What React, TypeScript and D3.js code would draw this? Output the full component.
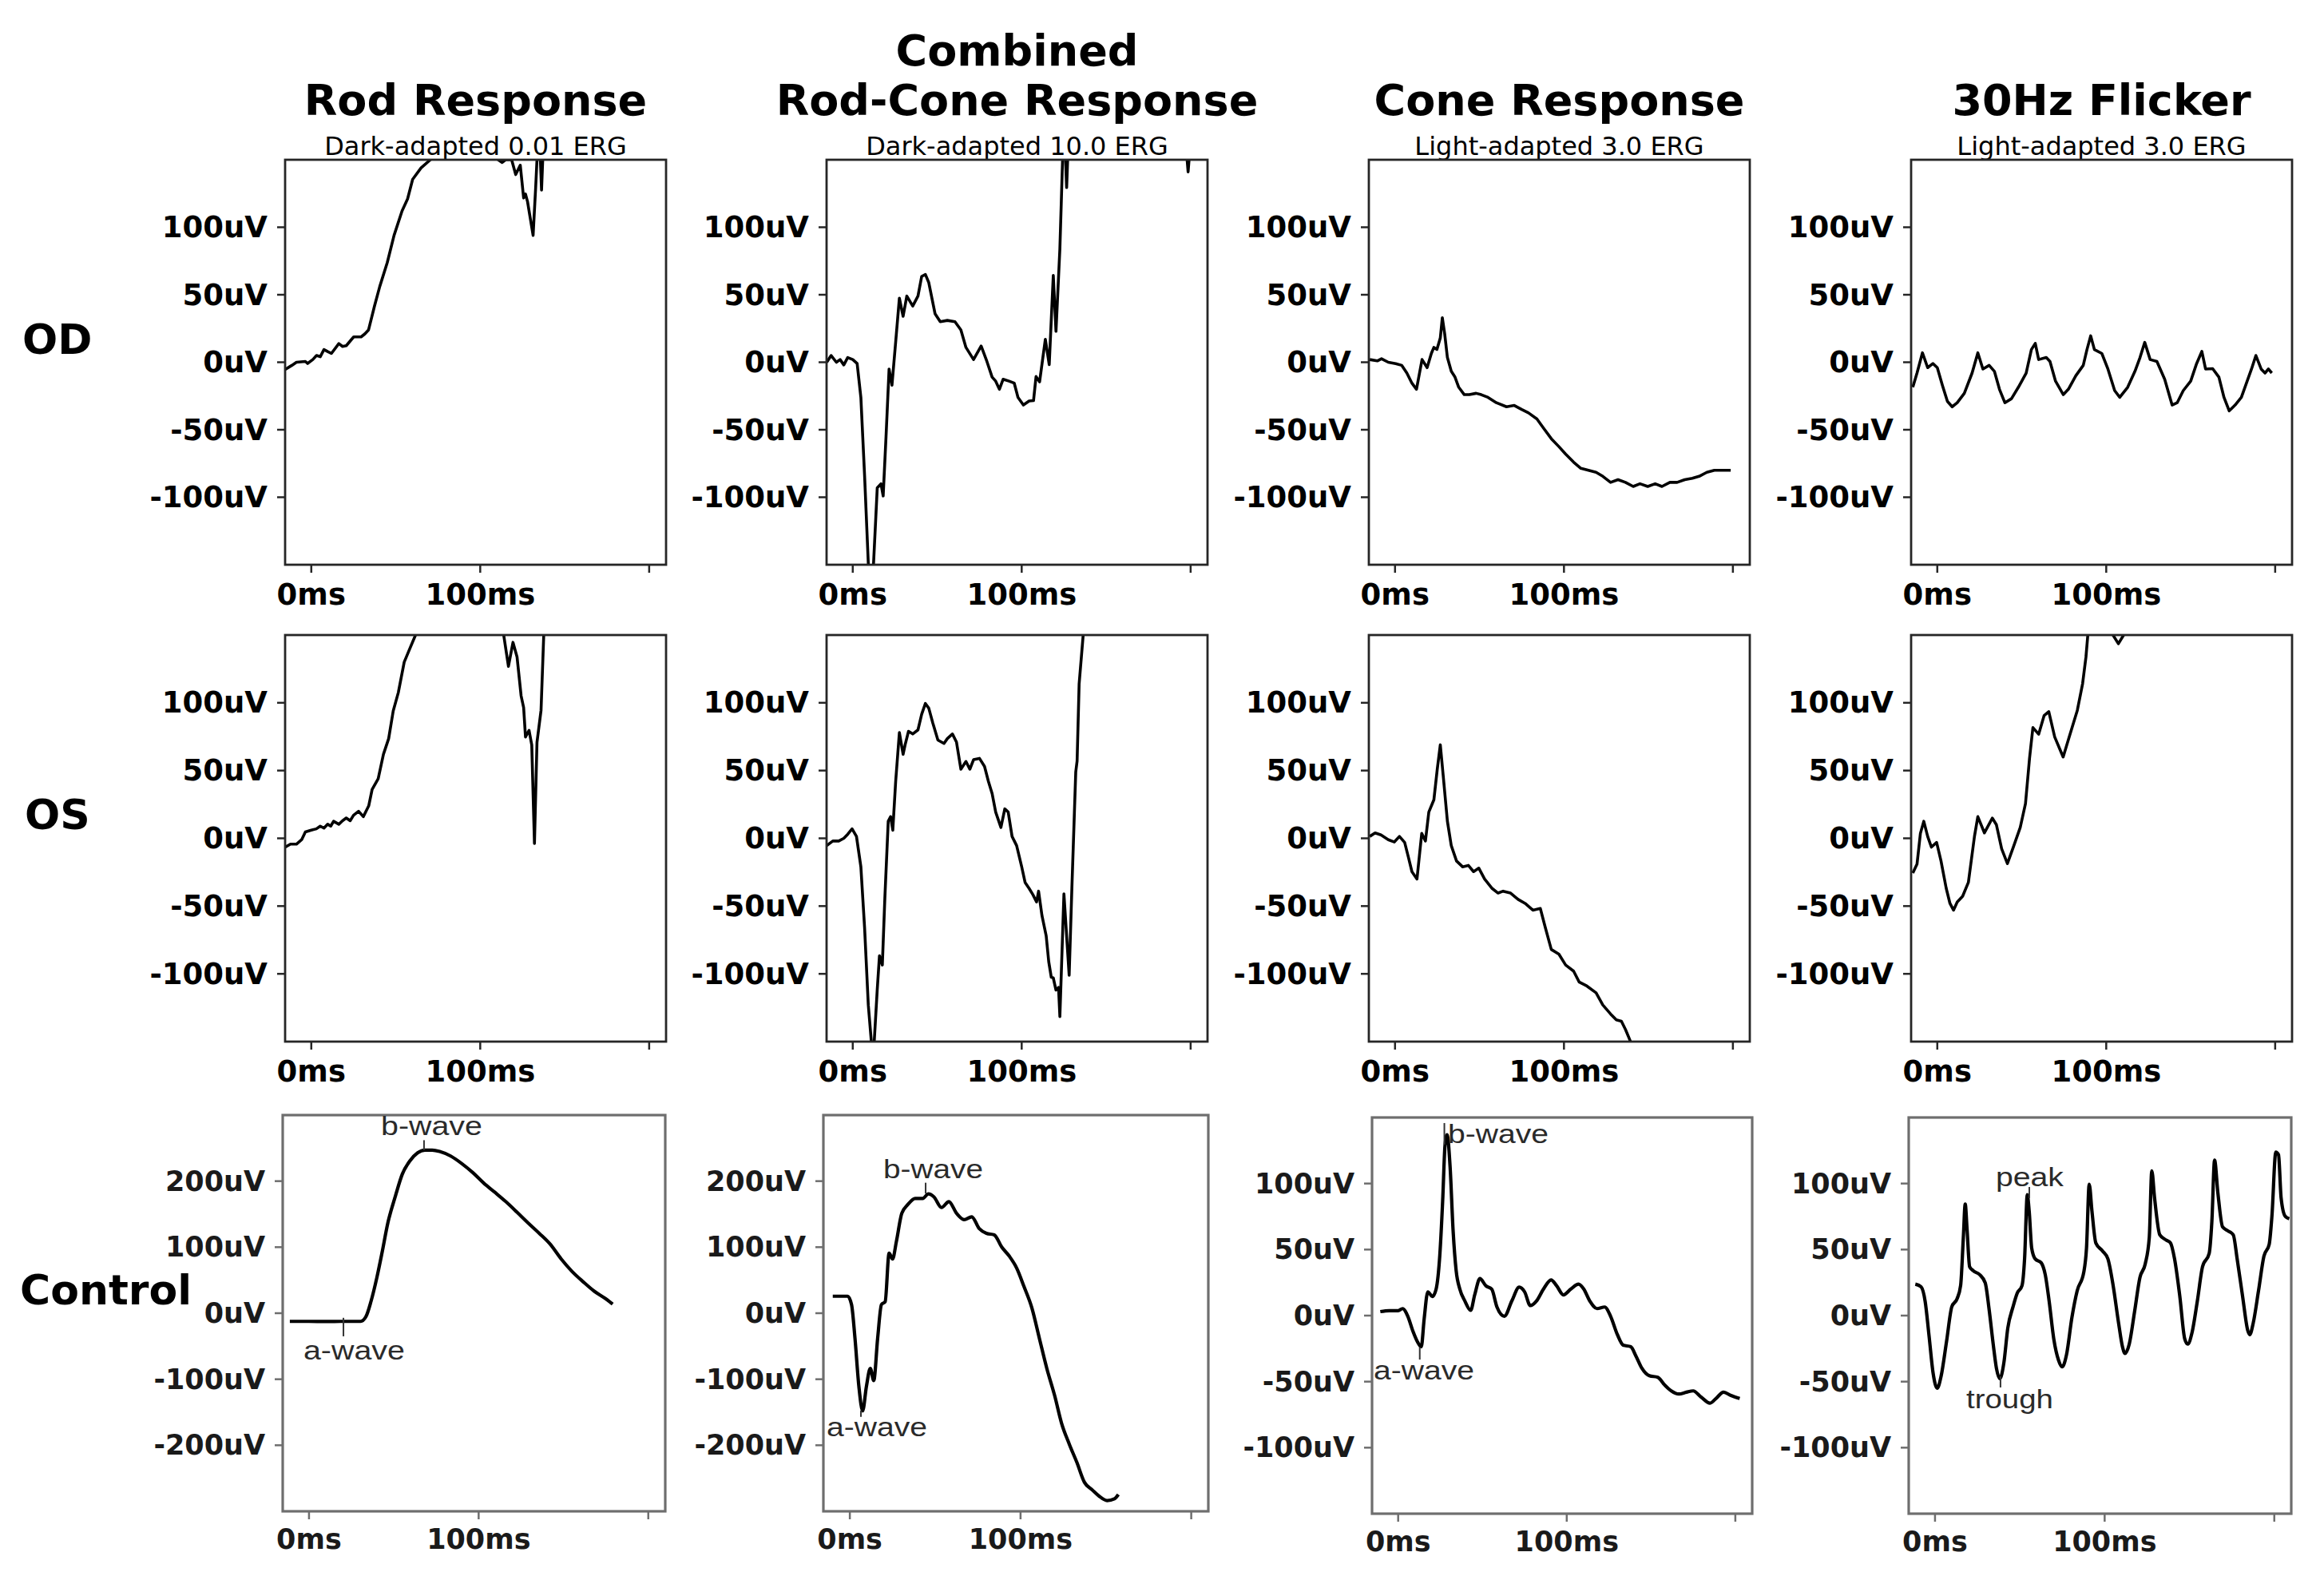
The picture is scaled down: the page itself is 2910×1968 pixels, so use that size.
import React from "react";
import * as d3 from "d3";

type Pt = [number, number];

// ---------- text content ----------
const columnTitles: string[][] = [
  ["Rod Response"],
  ["Combined", "Rod-Cone Response"],
  ["Cone Response"],
  ["30Hz Flicker"],
];
const columnSubtitles = [
  "Dark-adapted 0.01 ERG",
  "Dark-adapted 10.0 ERG",
  "Light-adapted 3.0 ERG",
  "Light-adapted 3.0 ERG",
];
const rowLabels = ["OD", "OS", "Control"];

// ---------- axes ----------
const timeDomain: [number, number] = [-15.5, 210];
const timeTicks = [0, 100, 200];
const timeTickLabels = ["0ms", "100ms", ""];
const patientDomain: [number, number] = [-150, 150];
const patientTicks = [100, 50, 0, -50, -100];
const controlWideDomain: [number, number] = [-300, 300];
const controlWideTicks = [200, 100, 0, -100, -200];

// ---------- OD (right eye) ----------
const rodOD: Pt[] = [
  [-15.4, -5.3], [-11.5, -2.3], [-8.8, 0], [-3.5, 0.6], [-2.2, -0.9], [0.9, 2], [3.1, 5], [5.3, 4.1],
  [7.5, 9.4], [9.7, 7.9], [11.9, 6.5], [16.3, 13.8], [18.5, 11.7], [20.7, 12.3], [25.1, 18.8],
  [29.5, 18.8], [31.7, 21], [33.9, 24], [37.4, 41.6], [40.5, 56], [45, 74], [49, 94], [53.7, 112],
  [57, 121], [60, 135.5], [65, 144], [70.5, 150], [75, 165], [90, 190], [105, 175], [110.6, 150],
  [113, 148], [115, 150], [118.6, 150], [121, 139], [123.7, 146], [125.7, 121.7], [126.8, 124.6],
  [128, 119], [131.3, 94], [132.8, 129], [133.6, 150], [135, 165], [135.6, 150], [136.3, 127.5],
  [137, 150], [140, 180], [150, 210],
];
const rodConeOD: Pt[] = [
  [-15.4, 0], [-12.8, 5], [-9.7, 0], [-7.5, 2], [-5.3, -2], [-3, 3.5], [0, 2], [2.6, -1], [4.8, -26],
  [7, -84], [9.2, -149], [10.5, -175], [11.5, -175], [12.3, -149], [14.5, -93], [16.7, -90], [18, -99],
  [19.7, -55], [21.5, -5], [23.2, -17], [25.4, 15], [27.6, 47.5], [29.8, 34], [32, 49], [35.5, 41.6],
  [38.6, 49], [40.8, 63.6], [43, 65], [45, 59], [48.7, 36], [51.8, 30], [56, 31], [60.5, 30], [64, 24],
  [67, 11], [71.5, 2], [76, 12], [79.4, 0.6], [82.5, -11], [84.6, -14], [86.8, -20], [89, -12.6],
  [92.5, -14], [95.6, -15.5], [97.8, -26], [101, -31.7], [104.4, -28.7], [107, -28.4], [108.5, -10.6],
  [110.6, -14.5], [114, 17], [116.3, -1.7], [118.7, 64.3], [120.3, 22.9], [122.6, 84], [124.2, 150],
  [125.5, 165], [126.6, 129.4], [127.5, 160], [140, 220], [196, 180], [198.5, 141], [201, 180],
];
const coneOD: Pt[] = [
  [-15, 2], [-10.5, 1], [-8, 2.6], [-4, 0], [0.4, -1], [4, -2.3], [7, -8], [10, -15.5], [12.7, -20],
  [14.5, -8], [16, 2], [19, -4], [21.5, 6.5], [23, 11], [24.8, 9.5], [26.8, 18], [28, 33], [29.4, 21],
  [31, 3.5], [33.3, -6.7], [35.5, -11], [37.7, -18.5], [41, -24], [44, -24], [48, -23], [51, -24],
  [55, -26], [60, -30], [66, -33], [70.6, -32], [75, -35], [79, -37.5], [84, -42], [88, -49],
  [92.5, -56.6], [97, -62.5], [101, -68], [105.7, -74], [110, -78.6], [114.5, -80], [119, -81.5],
  [123, -84.5], [127.6, -89], [132, -87], [136.4, -89], [141, -92], [145, -90], [149.6, -92], [154, -90],
  [158, -92], [162.7, -89], [167, -89], [171.5, -87], [176, -86], [180, -84.5], [184.6, -81.5],
  [189, -80], [193, -80], [198.7, -80],
];
const flickerOD: Pt[] = [
  [-14.5, -18.5], [-12, -8], [-8.8, 7], [-5.7, -4], [-2.6, -1], [0, -4], [3, -17], [6, -29], [8.8, -33],
  [11.8, -30], [16, -23], [20.6, -8], [24, 7], [27, -5], [30.7, -2.3], [33.8, -6.7], [36.8, -20],
  [40, -30], [43.9, -27], [48, -18.5], [52.6, -8], [55.7, 9.4], [58, 14], [60, 2], [64.5, 3.5],
  [66.7, 0.6], [70, -14], [74.6, -24], [77.6, -20], [82, -10], [86.4, -2.3], [88.6, 9.4], [90.8, 19.6],
  [93, 9.4], [97.4, 6.5], [101, -5], [105, -21], [108, -26], [112.7, -18.5], [117, -6.7], [120, 3.5],
  [122.8, 14.7], [126, 2], [130, 0.6], [134.6, -12.6], [139, -31.7], [142, -30], [145.6, -21],
  [150, -14], [153.5, -1], [156.6, 8], [158.8, -5], [163, -4.7], [166.7, -11], [169.7, -26],
  [172.8, -36], [176.3, -31.7], [180, -26], [183, -15.5], [186, -5], [188.6, 5], [191.7, -5],
  [194, -8], [196, -5], [198, -8],
];

// ---------- OS (left eye) ----------
const rodOS: Pt[] = [
  [-15.4, -6.5], [-12.3, -4.3], [-8.8, -4.3], [-5.7, -1], [-3.5, 4.7], [0, 6], [3, 7], [5.3, 9],
  [7.5, 7.5], [9.7, 10.4], [11.5, 9], [13.2, 12.6], [16.3, 10.4], [18.5, 13], [20.7, 15], [23, 13],
  [25, 17], [28, 20], [30.8, 16], [34, 24], [36, 36], [39.6, 44], [42.7, 62], [45.8, 73.6], [48.5, 94],
  [51.5, 107.5], [55, 130], [58, 139], [61.7, 150], [65, 165], [90, 200], [110, 170], [113.9, 150],
  [116.7, 126.9], [119.4, 144.6], [121.8, 133.8], [124.2, 105.2], [125.7, 96.4], [126.8, 74.8],
  [128.9, 79.7], [130.5, 68.9], [132.1, -3.8], [133.6, 70.9], [136, 94.5], [137.6, 150], [140, 180],
  [150, 210],
];
const rodConeOS: Pt[] = [
  [-15.4, -5.4], [-11.8, -2], [-8.3, -2], [-5.3, 0], [-3, 3], [-0.4, 7], [2.2, 1.4], [4.8, -21],
  [7, -66], [9.2, -123], [11, -150], [11.8, -165], [12, -165], [12.7, -150], [14.5, -111.5],
  [15.8, -86.7], [17.5, -93.5], [19, -44], [21, 12.6], [22.4, 16], [23.7, 6], [25.4, 42], [27.6, 78],
  [29.8, 62], [31, 69], [33, 79], [35.5, 77], [38.6, 80], [40.8, 91.6], [43, 99.5], [45, 96],
  [47.4, 85], [50.4, 72.5], [54, 70], [56, 73.6], [59, 77], [61.4, 71], [64, 51], [67, 56.7],
  [69.3, 51], [71.5, 58], [75, 59], [78, 53], [80.3, 42], [82.5, 33], [84.6, 19.4], [87.7, 8],
  [90, 21.7], [92, 19.4], [94.3, 1.4], [97, -5.4], [100, -21], [102, -32.5], [104.4, -37],
  [106.6, -41.5], [108.8, -47], [110, -39], [112, -57], [114.5, -72], [116, -91], [117.5, -102.5],
  [118.7, -103], [120.3, -112], [121.8, -110], [122.6, -131.5], [125, -41], [128.1, -101],
  [129.7, -37], [132, 49], [132.8, 57], [134, 114], [136.4, 150], [138, 175], [150, 210],
];
const coneOS: Pt[] = [
  [-15, 1.4], [-11.8, 4], [-8.3, 2.5], [-4, -1], [-0.4, -2.7], [2.6, 1.4], [5.7, -3], [8, -14.4],
  [10, -24.6], [13, -30], [15.8, 3.6], [18, -2], [20, 19.4], [23, 28.4], [25, 51], [26.8, 69],
  [28.5, 46.5], [31, 12.6], [33.3, -5.4], [36.4, -16.7], [40, -21], [43.4, -20], [46.5, -24.6],
  [49.6, -22], [53, -30], [57.5, -37], [61, -40.4], [64, -39], [68.4, -40.4], [72.8, -45], [77, -48],
  [81.6, -53], [86, -51.7], [89, -66], [92.5, -82], [97, -85.5], [101, -93.5], [105.7, -98],
  [109, -106], [113.6, -109], [119, -114], [123, -123], [127.6, -129.6], [131, -134], [134, -135],
  [136.4, -141], [138.6, -147.6], [141, -155], [150, -180],
];
const flickerOS: Pt[] = [
  [-14.5, -25.7], [-12, -19], [-10, 3.6], [-8, 12.6], [-5.7, 1.4], [-3.5, -6.5], [-0.4, -3],
  [2.2, -16.7], [5.3, -37], [7.5, -48], [9.6, -53], [11.8, -47], [15, -42.7], [18.4, -32.5], [22, 1.4],
  [24, 16], [27.9, 4], [32.6, 14.9], [35, 10], [38.1, -7.7], [41.5, -18.6], [45.2, -5.8], [49.1, 8],
  [52.2, 25.6], [54.6, 59], [56.6, 81.7], [60, 76.8], [63.2, 90.5], [66, 93.5], [69.5, 74.8],
  [74.5, 60], [78.1, 74.8], [82.9, 94.5], [86, 114], [88, 133.8], [89.1, 150], [92, 175], [100, 175],
  [104, 150], [107.2, 143.6], [110.3, 150], [115, 175], [130, 200],
];

// ---------- Control ----------
const rodCtrl: Pt[] = [
  [-11.3, -12.4], [0, -12.4], [10, -12.6], [20, -12.4], [30.4, -12.4], [33.5, -5.5], [36.5, 17.5],
  [40, 54], [43, 91], [46.5, 137], [51, 178], [55, 210.6], [59.6, 231], [64, 242.8], [68.3, 247],
  [72.6, 247], [77, 245], [83.5, 238], [90, 226.7], [96.5, 213], [103, 197], [109.6, 183], [116, 169],
  [122.6, 153], [129, 137], [135.7, 121], [142, 105], [148.7, 82], [155, 63.4], [161.7, 47.4],
  [168, 33.6], [174.8, 22], [179, 13.8],
];
const rodConeCtrl: Pt[] = [
  [-10, 25.7], [-1.3, 25.7], [1, 13], [3, -37.7], [5.3, -111], [7.5, -148], [9.7, -111], [12, -83.7],
  [14, -102], [16.3, -37.7], [18.5, 13], [20.7, 17.5], [23, 91], [25, 82], [27.3, 109], [30.4, 151],
  [34, 164.6], [38.3, 173.8], [42.7, 173.8], [46, 180.7], [49.3, 176], [53.7, 160], [58, 169],
  [62.6, 151], [67, 141.6], [71.4, 146], [75.8, 128], [80, 121], [84.6, 118.6], [89, 100],
  [93.4, 86.4], [97.8, 68], [102, 40.5], [106.6, 8.3], [111, -37.7], [115.4, -83.7], [120, -125],
  [124, -166.4], [128.6, -198.6], [133, -226], [137.4, -256], [142, -267.6], [146, -277],
  [150.7, -283.7], [155, -281], [157.3, -274.5],
];
const coneCtrl: Pt[] = [
  [-10.6, 3], [-5.3, 3.7], [0, 3.7], [2.6, 5.3], [5.7, -0.5], [8.8, -12], [11.5, -20], [13.7, -23.6],
  [15.4, -2.8], [17.6, 18], [20.3, 14.5], [22.5, 20], [24.7, 45.7], [26.4, 87], [27.8, 129], [29, 137],
  [30.8, 112.7], [32.6, 64], [34.4, 34], [36.6, 20], [39.6, 11], [43, 4], [45.4, 15.7], [48.5, 28],
  [52, 22.6], [55.5, 20], [58.6, 6.5], [63, -0.5], [67.4, 11], [71.8, 21.5], [75, 18], [78.4, 7.6],
  [82, 11], [86.3, 20.3], [90.7, 27], [94, 22.6], [98, 15.7], [102.6, 20.3], [107, 23.8], [110, 20.3],
  [113.7, 11], [118, 5.3], [122.5, 6.5], [126, -0.5], [130, -14.3], [133.5, -22.4], [138, -23.6],
  [141, -30.5], [144.5, -39.7], [149, -45.5], [154, -46.7], [158, -52.4], [162, -57], [166.5, -59.4],
  [171, -58], [175, -57], [179.7, -61.7], [185, -66.3], [188.5, -62.8], [193, -58], [197.4, -60.5],
  [202.6, -62.8],
];
const flickerCtrl: Pt[] = [
  [-11.6, 23.8], [-8.2, 21.8], [-5.8, 10.7], [-3.5, -15.5], [-1.1, -43.8], [1.3, -55], [3.6, -45.8],
  [6.8, -19.6], [9.9, 6.7], [13, 12.7], [15.1, 22.8], [16.7, 59], [17.8, 84.4], [18.9, 65.2],
  [20.4, 37], [22.5, 34], [26.4, 30.9], [29.6, 24.8], [31.9, 4.6], [34.3, -21.6], [36.2, -39.8],
  [38.2, -47.8], [40.6, -35.7], [42.9, -9.5], [46, 6.7], [48.4, 16.8], [51.3, 22.8], [52.8, 43],
  [54.4, 91.5], [55.5, 79.3], [57, 51], [59, 43], [62.6, 40], [65, 30.9], [67.3, 10.7], [70, -17.6],
  [72.8, -33.7], [75, -38.8], [77.5, -29.7], [80.7, -1.4], [83.8, 18.8], [87.7, 32.9], [89.3, 51],
  [90.9, 99.5], [92.5, 79.3], [94.8, 55], [98.7, 49], [101.9, 43], [105, 22.8], [108.2, -5.5],
  [110.5, -23.6], [112, -28.7], [114.5, -21.6], [117.6, 2.6], [120.8, 28.9], [123.9, 39], [126.3, 59],
  [127.8, 109.6], [129.4, 89.4], [132.5, 61.2], [136.5, 57], [138.8, 55], [141.2, 43], [144.3, 14.7],
  [147.2, -17.6], [149, -21.6], [151.4, -13.5], [154.6, 10.7], [157.7, 37], [161.6, 47], [163.2, 71.3],
  [164.8, 117.7], [166.7, 93.5], [169.5, 67.2], [172.6, 64.2], [175.8, 61.2], [178.1, 43],
  [181.3, 14.7], [184.4, -11.5], [185.5, -14.5], [187.6, -5.5], [190.7, 18.8], [193.9, 45], [197, 54],
  [198.6, 75.3], [200.9, 123.8], [202.5, 121.7], [204, 89.4], [206.4, 75.3], [208.8, 73.3],
];

// annotation labels on control traces
type Note = { text: string; t: number; v: number; tt: number; tv1: number; tv2: number; len: number };
const rodCtrlNotes: Note[] = [
  { text: "b-wave", t: 42.4, v: 269.6, tt: 67.8, tv1: 262, tv2: 247, len: 127 },
  { text: "a-wave", t: -3.3, v: -70, tt: 20.3, tv1: -7, tv2: -35, len: 127 },
];
const rodConeCtrlNotes: Note[] = [
  { text: "b-wave", t: 19.6, v: 204, tt: 44.4, tv1: 197.6, tv2: 181.4, len: 125 },
  { text: "a-wave", t: -13.6, v: -186, tt: 6.5, tv1: -147.5, tv2: -157, len: 126 },
];
const coneCtrlNotes: Note[] = [
  { text: "b-wave", t: 29.5, v: 130.7, tt: 27.4, tv1: 145.8, tv2: 129.5, len: 126 },
  { text: "a-wave", t: -14.55, v: -48.2, tt: 12.8, tv1: -23.9, tv2: -33.3, len: 126 },
];
const flickerCtrlNotes: Note[] = [
  { text: "peak", t: 35.8, v: 98, tt: 55.6, tv1: 97.4, tv2: 88.9, len: 85 },
  { text: "trough", t: 18.4, v: -70.2, tt: 38.6, tv1: -46, tv2: -54.4, len: 109 },
];

// ---------- layout ----------
const FONT = "'DejaVu Sans', 'Liberation Sans', sans-serif";
const NOTE_FONT = "'Liberation Sans', Arial, sans-serif";

type Spec = {
  key: string; x: number; y: number; w: number; h: number; data: Pt[];
  yDomain: [number, number]; yTicks: number[]; control: boolean; notes: Note[];
};

const colX = [357, 1035, 1714, 2393];
const panelW = 477;

const specs: Spec[] = [
  { key: "a1", x: colX[0], y: 200, w: panelW, h: 507, data: rodOD, yDomain: patientDomain, yTicks: patientTicks, control: false, notes: [] },
  { key: "a2", x: colX[1], y: 200, w: panelW, h: 507, data: rodConeOD, yDomain: patientDomain, yTicks: patientTicks, control: false, notes: [] },
  { key: "a3", x: colX[2], y: 200, w: panelW, h: 507, data: coneOD, yDomain: patientDomain, yTicks: patientTicks, control: false, notes: [] },
  { key: "a4", x: colX[3], y: 200, w: panelW, h: 507, data: flickerOD, yDomain: patientDomain, yTicks: patientTicks, control: false, notes: [] },
  { key: "b1", x: colX[0], y: 795, w: panelW, h: 509, data: rodOS, yDomain: patientDomain, yTicks: patientTicks, control: false, notes: [] },
  { key: "b2", x: colX[1], y: 795, w: panelW, h: 509, data: rodConeOS, yDomain: patientDomain, yTicks: patientTicks, control: false, notes: [] },
  { key: "b3", x: colX[2], y: 795, w: panelW, h: 509, data: coneOS, yDomain: patientDomain, yTicks: patientTicks, control: false, notes: [] },
  { key: "b4", x: colX[3], y: 795, w: panelW, h: 509, data: flickerOS, yDomain: patientDomain, yTicks: patientTicks, control: false, notes: [] },
  { key: "c1", x: 354, y: 1396, w: 479, h: 496, data: rodCtrl, yDomain: controlWideDomain, yTicks: controlWideTicks, control: true, notes: rodCtrlNotes },
  { key: "c2", x: 1031, y: 1396, w: 482, h: 496, data: rodConeCtrl, yDomain: controlWideDomain, yTicks: controlWideTicks, control: true, notes: rodConeCtrlNotes },
  { key: "c3", x: 1718, y: 1399, w: 476, h: 496, data: coneCtrl, yDomain: patientDomain, yTicks: patientTicks, control: true, notes: coneCtrlNotes },
  { key: "c4", x: 2390, y: 1399, w: 479, h: 496, data: flickerCtrl, yDomain: patientDomain, yTicks: patientTicks, control: true, notes: flickerCtrlNotes },
];

function Panel({ s }: { s: Spec }) {
  const xs = d3.scaleLinear().domain(timeDomain).range([s.x, s.x + s.w]);
  const ys = d3.scaleLinear().domain(s.yDomain).range([s.y + s.h, s.y]);
  const line = d3
    .line<Pt>()
    .x((d) => xs(d[0]))
    .y((d) => ys(d[1]))
    .curve(s.control ? d3.curveMonotoneX : d3.curveLinear);
  const axisColor = s.control ? "#6e6e6e" : "#262626";
  const labelColor = s.control ? "#1a1a1a" : "#000";
  const tickLen = 10;
  const clipId = `clip-${s.key}`;
  const bottom = s.y + s.h;
  return (
    <g>
      <defs>
        <clipPath id={clipId}>
          <rect x={s.x} y={s.y} width={s.w} height={s.h} />
        </clipPath>
      </defs>
      <path
        d={line(s.data) || ""}
        fill="none"
        stroke="#000"
        strokeWidth={s.control ? 4.2 : 3.6}
        strokeLinejoin="round"
        clipPath={`url(#${clipId})`}
      />
      <rect x={s.x} y={s.y} width={s.w} height={s.h} fill="none" stroke={axisColor} strokeWidth={s.control ? 3.2 : 2.8} />
      {s.yTicks.map((v) => (
        <g key={`y${v}`}>
          <line x1={s.x - tickLen} x2={s.x} y1={ys(v)} y2={ys(v)} stroke={axisColor} strokeWidth={2.5} />
          <text
            x={s.x - 22}
            y={ys(v)}
            textAnchor="end"
            dominantBaseline="central"
            fontFamily={FONT}
            fontWeight="bold"
            fontSize={s.control ? 35 : 37}
            fill={labelColor}
          >
            {`${v}uV`}
          </text>
        </g>
      ))}
      {timeTicks.map((t, i) => (
        <g key={`x${t}`}>
          <line x1={xs(t)} x2={xs(t)} y1={bottom} y2={bottom + tickLen} stroke={axisColor} strokeWidth={2.5} />
          {timeTickLabels[i] && (
            <text
              x={xs(t)}
              y={bottom + (s.control ? 47 : 50)}
              textAnchor="middle"
              fontFamily={FONT}
              fontWeight="bold"
              fontSize={s.control ? 35 : 37}
              fill={labelColor}
            >
              {timeTickLabels[i]}
            </text>
          )}
        </g>
      ))}
      {s.notes.map((n) => (
        <g key={n.text}>
          <line x1={xs(n.tt)} x2={xs(n.tt)} y1={ys(n.tv1)} y2={ys(n.tv2)} stroke="#333" strokeWidth={2} />
          <text
            x={xs(n.t)}
            y={ys(n.v)}
            fontFamily={NOTE_FONT}
            fontSize={33}
            fill="#2a2a2a"
            textLength={n.len}
            lengthAdjust="spacingAndGlyphs"
          >
            {n.text}
          </text>
        </g>
      ))}
    </g>
  );
}

const rowLabelPos = [
  { x: 28, y: 443, size: 52 },
  { x: 31, y: 1038, size: 52 },
  { x: 25, y: 1633, size: 52 },
];

export default function App() {
  const titleBaseline = 144;
  return (
    <svg
      width={2910}
      height={1968}
      viewBox="0 0 2910 1968"
      style={{ position: "absolute", left: 0, top: 0, background: "#fff" }}
    >
      <rect x={0} y={0} width={2910} height={1968} fill="#fff" />
      {columnTitles.map((lines, i) => {
        const cx = colX[i] + panelW / 2;
        return (
          <g key={`t${i}`}>
            {lines.map((ln, j) => (
              <text
                key={ln}
                x={cx}
                y={titleBaseline - (lines.length - 1 - j) * 62}
                textAnchor="middle"
                fontFamily={FONT}
                fontWeight="bold"
                fontSize={54}
              >
                {ln}
              </text>
            ))}
            <text x={cx} y={194} textAnchor="middle" fontFamily={FONT} fontSize={32}>
              {columnSubtitles[i]}
            </text>
          </g>
        );
      })}
      {rowLabels.map((r, i) => (
        <text
          key={r}
          x={rowLabelPos[i].x}
          y={rowLabelPos[i].y}
          fontFamily={FONT}
          fontWeight="bold"
          fontSize={rowLabelPos[i].size}
        >
          {r}
        </text>
      ))}
      {specs.map((s) => (
        <Panel key={s.key} s={s} />
      ))}
    </svg>
  );
}
